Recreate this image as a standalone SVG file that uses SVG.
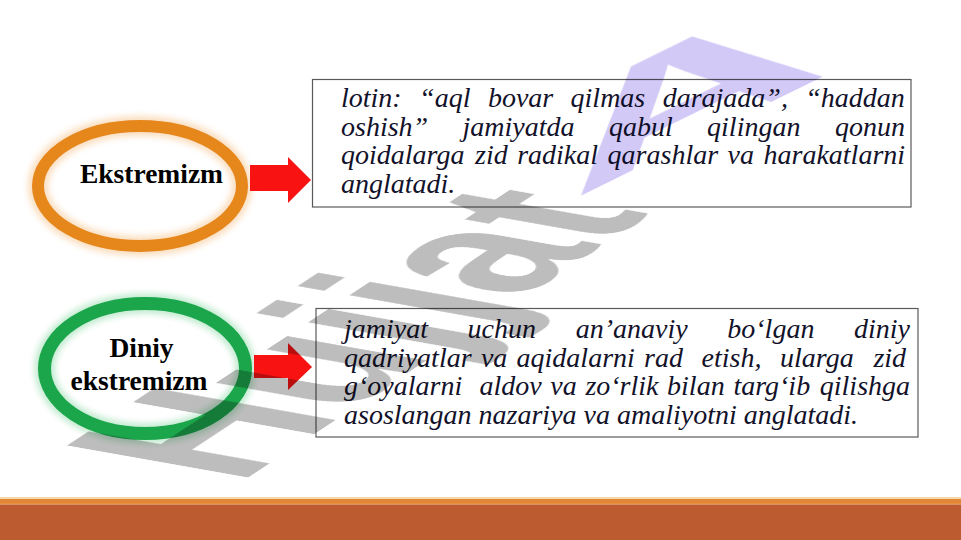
<svg xmlns="http://www.w3.org/2000/svg" width="961" height="540" viewBox="0 0 961 540">
<defs>
<style>
.lbl{font-family:"Liberation Serif","Times New Roman",serif;font-weight:bold;font-size:27.5px;fill:#000;text-anchor:middle}
.body{font-family:"Liberation Serif","Times New Roman",serif;font-style:italic;font-size:28px;fill:#12122a}
.box{fill:#fff;stroke:#5a5a5a;stroke-width:1.2}
.glow{fill:none;stroke-width:20;opacity:0.35}
.ring{fill:none}
.arrow{fill:#f81212}
.wm{font-family:"Liberation Sans",Arial,sans-serif;font-weight:bold;font-size:100px}
</style>
<filter id="soft" x="-20%" y="-30%" width="140%" height="160%"><feGaussianBlur stdDeviation="3"/></filter>
<filter id="edge" x="-10%" y="-10%" width="120%" height="120%"><feGaussianBlur stdDeviation="0.7"/></filter>
</defs>
<rect width="961" height="540" fill="#fff"/>

<g id="node-ekstremizm">
<ellipse class="glow" cx="140" cy="186" rx="102" ry="60" stroke="#f2a24a" filter="url(#soft)"/>
<ellipse class="ring" cx="140" cy="186" rx="102" ry="60" stroke="#e6871f" stroke-width="12" filter="url(#edge)"/>
<text class="lbl" x="151.5" y="183">Ekstremizm</text>
</g>

<g id="node-diniy">
<ellipse class="glow" cx="145" cy="368.5" rx="100.5" ry="65" stroke="#4cc474" filter="url(#soft)"/>
<ellipse class="ring" cx="145" cy="368.5" rx="100.5" ry="65" stroke="#1ba64c" stroke-width="13" filter="url(#edge)"/>
<text class="lbl" x="141.5" y="357">Diniy</text>
<text class="lbl" x="139" y="390">ekstremizm</text>
</g>

<g id="connectors">
<polygon class="arrow" points="250,165 288,165 288,157 311,180 288,203 288,191 250,191"/>
<polygon class="arrow" points="254,355 288,355 288,343 312,367 288,390 288,378 254,378"/>
</g>

<g id="box-1">
<rect class="box" x="312.5" y="79.5" width="598.5" height="127.5"/>
<text class="body">
<tspan x="341" y="107">lotin:</tspan><tspan x="419.1" y="107">“aql</tspan><tspan x="487.9" y="107">bovar</tspan><tspan x="570.6" y="107">qilmas</tspan><tspan x="662.7" y="107">darajada”,</tspan><tspan x="805.3" y="107">“haddan</tspan>
<tspan x="341" y="135.5">oshish”</tspan><tspan x="462.5" y="135.5">jamiyatda</tspan><tspan x="608.9" y="135.5">qabul</tspan><tspan x="707.1" y="135.5">qilingan</tspan><tspan x="834.9" y="135.5">qonun</tspan>
<tspan x="341" y="164">qoidalarga</tspan><tspan x="475" y="164">zid</tspan><tspan x="517.2" y="164">radikal</tspan><tspan x="607.6" y="164">qarashlar</tspan><tspan x="727.6" y="164">va</tspan><tspan x="763.5" y="164">harakatlarni</tspan>
<tspan x="341" y="192.5">anglatadi.</tspan>
</text>
</g>

<g id="box-2">
<rect class="box" x="316" y="308.5" width="602" height="128.5"/>
<text class="body">
<tspan x="344" y="338">jamiyat</tspan><tspan x="467.6" y="338">uchun</tspan><tspan x="575.7" y="338">an’anaviy</tspan><tspan x="727.3" y="338">bo‘lgan</tspan><tspan x="854" y="338">diniy</tspan>
<tspan x="344" y="366.5">qadriyatlar</tspan><tspan x="480.9" y="366.5">va</tspan><tspan x="516.6" y="366.5">aqidalarni</tspan><tspan x="644.1" y="366.5">rad</tspan><tspan x="701.6" y="366.5">etish,</tspan><tspan x="780.1" y="366.5">ularga</tspan><tspan x="873.4" y="366.5">zid</tspan>
<tspan x="344" y="395">g‘oyalarni</tspan><tspan x="479.5" y="395">aldov</tspan><tspan x="550.3" y="395">va</tspan><tspan x="585.4" y="395">zo‘rlik</tspan><tspan x="667.1" y="395">bilan</tspan><tspan x="733.4" y="395">targ‘ib</tspan><tspan x="819.8" y="395">qilishga</tspan>
<tspan x="344" y="423.5">asoslangan nazariya va amaliyotni anglatadi.</tspan>
</text>
</g>

<g id="footer">
<rect x="0" y="497" width="961" height="2" fill="#f6d9a6"/>
<rect x="0" y="499" width="961" height="5" fill="#e0873a"/>
<rect x="0" y="503.5" width="961" height="1" fill="#f39a3a"/>
<rect x="0" y="504.5" width="961" height="35.5" fill="#bd5b30"/>
</g>

<g id="watermark" style="mix-blend-mode:multiply">
<text class="wm" fill="#bdbdbd" transform="matrix(1.488,-0.977,2.63,0.465,238.2,484)">Hujjat</text>
<text class="wm" fill="#d2c9f7" transform="matrix(3.601,-1.773,0.587,1.229,572,200)">A</text>
</g>
</svg>
